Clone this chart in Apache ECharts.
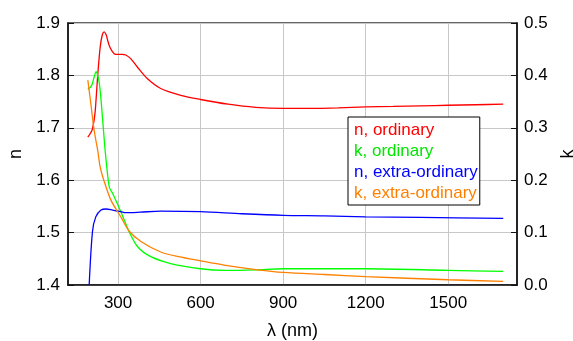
<!DOCTYPE html>
<html lang="en">
<head>
  <meta charset="UTF-8">
  <script src="https://cdn.jsdelivr.net/npm/echarts@6/dist/echarts.min.js"></script>
  <title>n, k</title>
  <style>
    html, body { margin: 0; padding: 0; background: #fff; }
  </style>
</head>
<body>
  <div id="main" style="width: 573px;height:341px;"></div>
  <script type="text/javascript">
    // x ticks
    var xTicks = [300, 600, 900, 1200, 1500];

    // n, ordinary (left axis)
    var nOrdWl = [190, 200, 207, 216, 226, 235, 243, 250, 257, 262, 270, 280, 290, 300, 315, 328, 346, 370, 406, 455, 528, 600, 700, 800, 900, 1000, 1100, 1200, 1300, 1400, 1500, 1600, 1700];
    var nOrd   = [1.682, 1.690, 1.698, 1.727, 1.800, 1.854, 1.878, 1.883, 1.877, 1.867, 1.854, 1.845, 1.840, 1.840, 1.840, 1.839, 1.832, 1.816, 1.794, 1.775, 1.762, 1.754, 1.745, 1.739, 1.737, 1.737, 1.738, 1.740, 1.741, 1.742, 1.743, 1.744, 1.745];

    // k, ordinary (right axis)
    var kOrdWl = [190, 204, 212, 220, 232, 244, 253, 268, 280, 310, 340, 371, 419, 491, 600, 690, 800, 900, 1000, 1200, 1500, 1700];
    var kOrd   = [0.373, 0.381, 0.395, 0.407, 0.384, 0.315, 0.257, 0.187, 0.175, 0.140, 0.102, 0.073, 0.054, 0.041, 0.031, 0.028, 0.029, 0.031, 0.031, 0.031, 0.028, 0.026];

    // n, extra-ordinary (left axis)
    var nExtWl = [195, 207, 219, 238, 256, 280, 310, 328, 380, 455, 600, 750, 900, 1050, 1200, 1400, 1700];
    var nExt   = [1.400, 1.502, 1.530, 1.543, 1.545, 1.543, 1.540, 1.538, 1.539, 1.541, 1.540, 1.536, 1.533, 1.532, 1.530, 1.529, 1.527];

    // k, extra-ordinary (right axis)
    var kExtWl = [190, 201, 213, 226, 235, 250, 274, 310, 340, 383, 455, 520, 600, 685, 807, 900, 1050, 1200, 1500, 1700];
    var kExt   = [0.391, 0.346, 0.295, 0.257, 0.225, 0.197, 0.162, 0.130, 0.103, 0.083, 0.063, 0.054, 0.046, 0.038, 0.029, 0.024, 0.020, 0.016, 0.010, 0.007];

    function pairs(wl, v) {
      return wl.map(function (x, i) { return [x, v[i]]; });
    }

    var myChart = echarts.init(document.getElementById('main'));
    var font = 'Liberation Sans, Arial, sans-serif';

    function line(name, color, axis, wl, v) {
      return {
        name: name, type: 'line', yAxisIndex: axis,
        smooth: 0.3, showSymbol: false,
        lineStyle: { color: color, width: 1.3 }, itemStyle: { color: color },
        data: pairs(wl, v)
      };
    }

    var option = {
      animation: false,
      grid: {
        left: 68, right: 56, top: 23, bottom: 56,
        outerBoundsMode: 'none', containLabel: false,
        show: true, borderColor: '#333', borderWidth: 1.5
      },
      legend: {
        orient: 'vertical',
        left: 348, top: 117,
        padding: [5, 2, 3, 0],
        itemGap: 4,
        itemWidth: 0, itemHeight: 0,
        selectedMode: false,
        backgroundColor: '#fff',
        borderColor: '#000', borderWidth: 1, borderRadius: 0,
        textStyle: { fontSize: 17, fontFamily: font },
        data: [
          { name: 'n, ordinary', textStyle: { color: '#ff0000' } },
          { name: 'k, ordinary', textStyle: { color: '#00e600' } },
          { name: 'n, extra-ordinary', textStyle: { color: '#0000ff' } },
          { name: 'k, extra-ordinary', textStyle: { color: '#ff8000' } }
        ]
      },
      xAxis: {
        type: 'value',
        min: 118, max: 1750,
        name: 'λ (nm)', nameLocation: 'middle', nameGap: 37,
        nameTextStyle: { fontSize: 18, color: '#000', fontFamily: font },
        axisLine: { lineStyle: { color: '#111', width: 1.5 } },
        axisTick: { show: false, customValues: xTicks },
        axisLabel: { customValues: xTicks, fontSize: 17, color: '#000', margin: 10, fontFamily: font,
          formatter: function (v) { return String(v); } },
        splitLine: { show: true, lineStyle: { color: '#c8c8c8', width: 1 } }
      },
      yAxis: [
        {
          type: 'value', min: 1.4, max: 1.9, interval: 0.1,
          name: 'n', nameLocation: 'middle', nameGap: 37,
          nameTextStyle: { fontSize: 18, color: '#000', fontFamily: font },
          axisLine: { show: true, lineStyle: { color: '#111', width: 1.5 } },
          axisTick: { show: true, inside: true, length: 6, lineStyle: { color: '#111' } },
          axisLabel: { fontSize: 17, color: '#000', margin: 8, fontFamily: font,
            formatter: function (v) { return v.toFixed(1); } },
          splitLine: { show: true, lineStyle: { color: '#c8c8c8', width: 1 } }
        },
        {
          type: 'value', min: 0, max: 0.5, interval: 0.1,
          name: 'k', nameLocation: 'middle', nameGap: 40,
          nameTextStyle: { fontSize: 18, color: '#000', fontFamily: font },
          axisLine: { show: true, lineStyle: { color: '#111', width: 1.5 } },
          axisTick: { show: true, inside: true, length: 6, lineStyle: { color: '#111' } },
          axisLabel: { fontSize: 17, color: '#000', margin: 7, fontFamily: font,
            formatter: function (v) { return v.toFixed(1); } },
          splitLine: { show: false }
        }
      ],
      series: [
        line('n, ordinary', '#ff0000', 0, nOrdWl, nOrd),
        line('k, ordinary', '#00ff00', 1, kOrdWl, kOrd),
        line('n, extra-ordinary', '#0000ff', 0, nExtWl, nExt),
        line('k, extra-ordinary', '#ff8000', 1, kExtWl, kExt)
      ]
    };
    myChart.setOption(option);
  </script>
</body>
</html>
